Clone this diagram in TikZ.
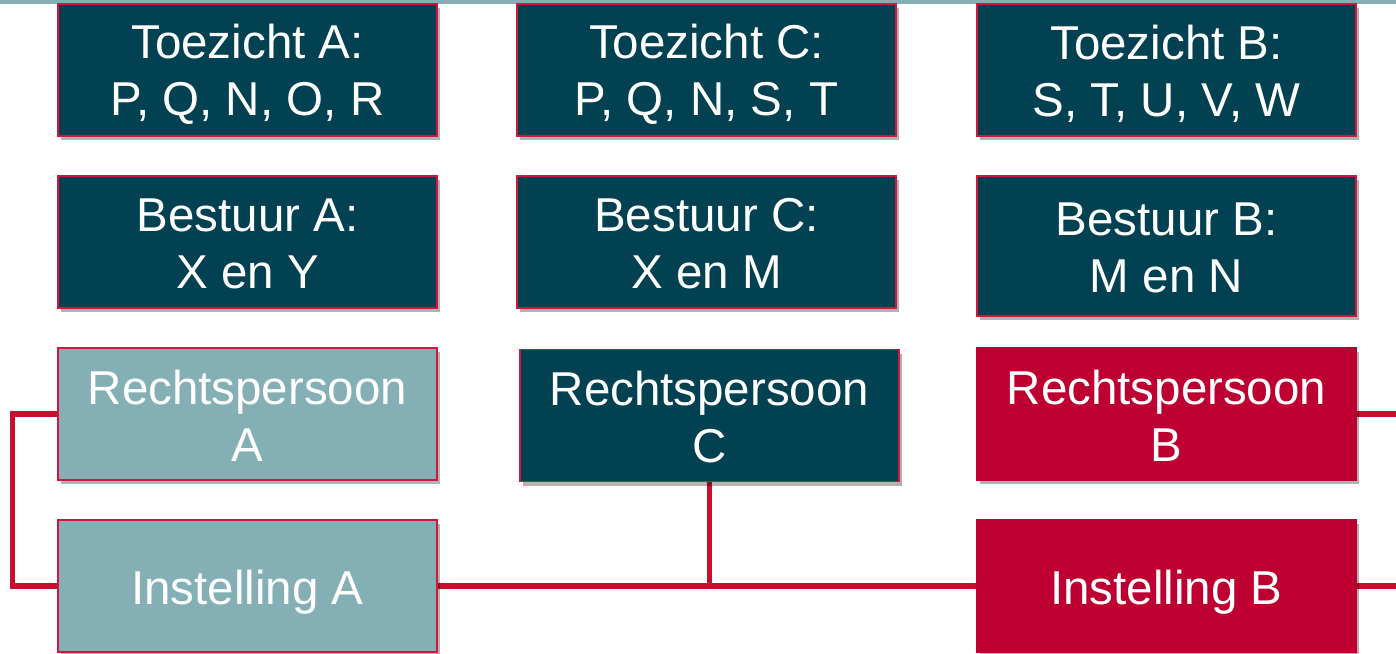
\documentclass[tikz,border=0pt]{standalone}
\usepackage{fontspec}
\setmainfont{Liberation Sans}
\usetikzlibrary{shadows,backgrounds}
\definecolor{darkteal}{HTML}{014151}
\definecolor{lightteal}{HTML}{84AFB4}
\definecolor{boxred}{HTML}{BD0031}
\definecolor{edgered}{HTML}{D4163C}
\definecolor{linkred}{HTML}{C8102E}
\begin{document}
\begin{tikzpicture}[x=1pt,y=-1pt,
  box/.style={rectangle, draw=edgered, line width=1.5pt,
    minimum width=379pt, minimum height=132pt, inner sep=0pt,
    drop shadow={shadow xshift=3pt, shadow yshift=-4pt, fill=black, opacity=0.3}},
  lbl/.style={text=white, align=center, inner sep=0pt,
    font=\fontsize{47.5}{57}\selectfont},
  txt/.style 2 args={label={[lbl, yshift=-#1pt]center:#2}},
  dark/.style={box, fill=darkteal},
  light/.style={box, fill=lightteal},
  red/.style={box, fill=boxred, draw=boxred},
  link/.style={draw=linkred, line width=5.5pt}]
\clip (0,0) rectangle (1396,653);
\fill[lightteal] (0,0) rectangle (1396,3.5);
% row 1
\node[dark, txt={4}{Toezicht A:\\P, Q, N, O, R}] (toeA) at (247.5,70) {};
\node[dark, txt={4}{Toezicht C:\\P, Q, N, S, T}] (toeC) at (706.5,70) {};
\node[dark, txt={4}{Toezicht B:\\S, T, U, V, W}] (toeB) at (1166.5,70) {};
% row 2
\node[dark, txt={2}{Bestuur A:\\X en Y}] (besA) at (247.5,242) {};
\node[dark, txt={2}{Bestuur C:\\X en M}] (besC) at (706.5,242) {};
\node[dark, minimum height=140pt, txt={2}{Bestuur B:\\M en N}] (besB) at (1166.5,246) {};
% row 3
\node[light, txt={2}{Rechtspersoon\\A}] (rpA) at (247.5,414) {};
\node[dark, txt={2}{Rechtspersoon\\C}] (rpC) at (709.5,415.5) {};
\node[red, txt={2}{Rechtspersoon\\B}] (rpB) at (1166.5,414) {};
% row 4
\node[light, txt={6}{Instelling A}] (instA) at (247.5,586) {};
\node[red, txt={6}{Instelling B}] (instB) at (1166.5,586) {};
\begin{scope}[on background layer]
\draw[link] (rpA.west) -- ++(-45,0) |- (instA.west);
\draw[link] (instA.east) -- (instB.west);
\draw[link] (rpC.south) -- (rpC.south |- instA.east);
\draw[link] (rpB.east) -- ++(42.5,0) |- (instB.east);
\end{scope}
\end{tikzpicture}
\end{document}
